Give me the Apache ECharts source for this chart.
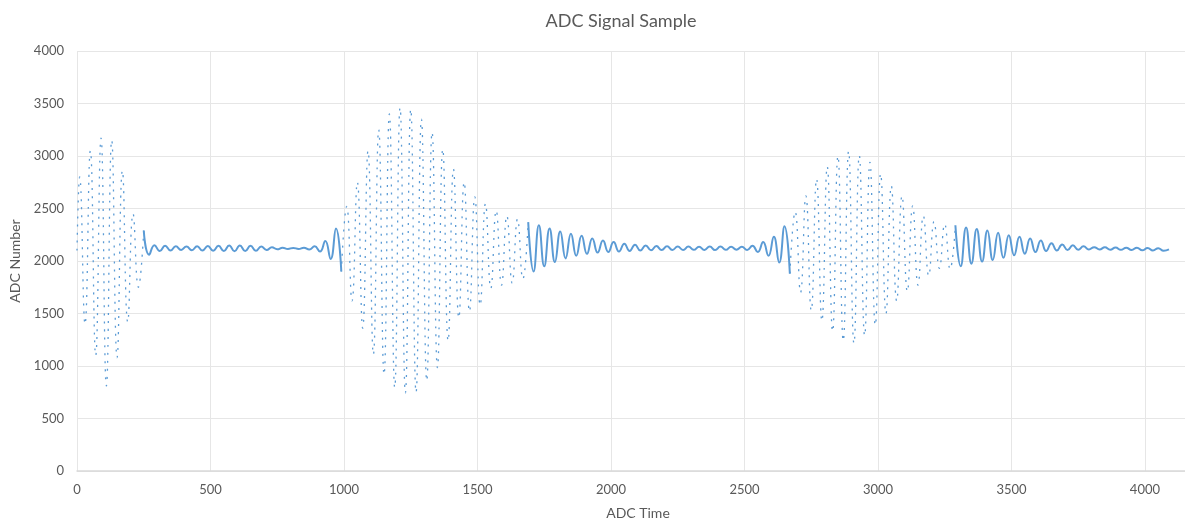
<!DOCTYPE html>
<html>
<head>
<meta charset="utf-8">
<script src="https://cdn.jsdelivr.net/npm/echarts@6/dist/echarts.min.js"></script>
<style>
  html, body { margin: 0; padding: 0; background: #ffffff; }
  #chart { width: 1185px; height: 525px; }
</style>
</head>
<body>
<div id="chart"></div>
<script>
// ---- Data (peaks / troughs of each half cycle) ----
const adcTime = [
  0, 10, 30, 50, 70, 90, 110, 130, 150, 170, 190, 210, 230, 250, 270, 290,
  310, 330, 350, 370, 390, 410, 430, 450, 470, 490, 510, 530, 550, 570, 590,
  610, 630, 650, 670, 690, 710, 730, 750, 770, 790, 810, 830, 850, 870, 890,
  910, 930, 950, 970, 990, 1010, 1030, 1050, 1070, 1090, 1110, 1130, 1150,
  1170, 1190, 1210, 1230, 1250, 1270, 1290, 1310, 1330, 1350, 1370, 1390,
  1410, 1430, 1450, 1470, 1490, 1510, 1530, 1550, 1570, 1590, 1610, 1630,
  1650, 1670, 1690, 1710, 1730, 1750, 1770, 1790, 1810, 1830, 1850, 1870,
  1890, 1910, 1930, 1950, 1970, 1990, 2010, 2030, 2050, 2070, 2090, 2110,
  2130, 2150, 2170, 2190, 2210, 2230, 2250, 2270, 2290, 2310, 2330, 2350,
  2370, 2390, 2410, 2430, 2450, 2470, 2490, 2510, 2530, 2550, 2570, 2590,
  2610, 2630, 2650, 2670, 2690, 2710, 2730, 2750, 2770, 2790, 2810, 2830,
  2850, 2870, 2890, 2910, 2930, 2950, 2970, 2990, 3010, 3030, 3050, 3070,
  3090, 3110, 3130, 3150, 3170, 3190, 3210, 3230, 3250, 3270, 3290, 3310,
  3330, 3350, 3370, 3390, 3410, 3430, 3450, 3470, 3490, 3510, 3530, 3550,
  3570, 3590, 3610, 3630, 3650, 3670, 3690, 3710, 3730, 3750, 3770, 3790,
  3810, 3830, 3850, 3870, 3890, 3910, 3930, 3950, 3970, 3990, 4010, 4030,
  4050, 4070, 4090
];
const adcValue = [
  2100, 2800, 1400, 3050, 1100, 3170, 810, 3150, 1080, 2860, 1420, 2450, 1750, 2290, 2060, 2150,
  2095, 2145, 2100, 2140, 2105, 2138, 2102, 2140, 2100, 2142, 2098, 2145, 2095, 2148, 2092,
  2148, 2095, 2145, 2098, 2138, 2105, 2130, 2112, 2126, 2114, 2125, 2115, 2127, 2110, 2140,
  2090, 2190, 2020, 2310, 1900, 2520, 1620, 2750, 1360, 3050, 1110, 3250, 920,
  3400, 795, 3460, 745, 3445, 750, 3350, 860, 3225, 985, 3065, 1240,
  2875, 1460, 2750, 1520, 2610, 1580, 2545, 1740, 2480, 1770, 2430, 1790,
  2400, 1830, 2370, 1900, 2340, 1950, 2310, 1990, 2280, 2025, 2260, 2050,
  2240, 2068, 2215, 2080, 2195, 2085, 2180, 2090, 2165, 2095, 2155, 2100,
  2148, 2102, 2142, 2104, 2140, 2105, 2138, 2105, 2137, 2106, 2136, 2105,
  2138, 2104, 2137, 2106, 2135, 2108, 2135, 2105, 2145, 2085, 2180, 2050,
  2230, 1985, 2330, 1880, 2470, 1700, 2620, 1530, 2780, 1430, 2900, 1330,
  3000, 1240, 3045, 1215, 3005, 1290, 2940, 1390, 2830, 1500, 2715, 1620,
  2620, 1710, 2525, 1770, 2430, 1860, 2375, 1930, 2350, 1925, 2340, 1950,
  2320, 1975, 2305, 1995, 2290, 2010, 2270, 2030, 2245, 2055, 2230, 2070,
  2215, 2085, 2195, 2095, 2170, 2100, 2158, 2105, 2150, 2108, 2140, 2110,
  2132, 2110, 2130, 2108, 2128, 2106, 2126, 2105, 2127, 2102, 2124, 2100,
  2122, 2098, 2110
];
const yTicks = [0, 500, 1000, 1500, 2000, 2500, 3000, 3500, 4000];
const xTicks = [0, 500, 1000, 1500, 2000, 2500, 3000, 3500, 4000];

// ---- Presentation ----
// sample ranges where the fast, large oscillation renders as dotted columns
const dottedSpans = [[0, 250], [990, 1690], [2670, 3290]];
const inDotted = t => dottedSpans.some(s => t >= s[0] && t <= s[1]);
const isEdge = t => dottedSpans.some(s => t === s[0] || t === s[1]);

const solidData = adcTime.map((t, i) => [t, (!inDotted(t) || isEdge(t)) ? adcValue[i] : null]);
const dottedData = adcTime.map((t, i) => [t, inDotted(t) ? adcValue[i] : null]);

const FONT = 'Lato, "Open Sans", sans-serif';
const chart = echarts.init(document.getElementById('chart'), null, { renderer: 'canvas' });
chart.setOption({
  animation: false,
  backgroundColor: '#ffffff',
  title: {
    text: 'ADC Signal Sample',
    left: 616, top: 7,
    textAlign: 'center',
    textStyle: { fontFamily: FONT, fontSize: 18, fontWeight: 'normal', color: '#595959' }
  },
  grid: { left: 76, right: 0, top: 51, bottom: 51 },
  xAxis: {
    type: 'value',
    min: xTicks[0], max: 4150, interval: xTicks[1] - xTicks[0],
    name: 'ADC Time', nameLocation: 'middle', nameGap: 35,
    nameTextStyle: { fontFamily: FONT, fontSize: 14, color: '#595959', padding: [0, 0, 0, 14] },
    axisLine: { show: true, lineStyle: { color: '#d9d9d9', width: 1.5 } },
    axisTick: { show: false },
    axisLabel: { fontFamily: FONT, fontSize: 13, color: '#595959', margin: 12, showMaxLabel: false,
                 formatter: v => String(v) },
    splitLine: { show: true, lineStyle: { color: '#e6e6e6', width: 1 } }
  },
  yAxis: {
    type: 'value',
    min: yTicks[0], max: yTicks[yTicks.length - 1], interval: yTicks[1] - yTicks[0],
    name: 'ADC Number', nameLocation: 'middle', nameGap: 55,
    nameTextStyle: { fontFamily: FONT, fontSize: 14, color: '#595959' },
    axisLine: { show: false },
    axisTick: { show: false },
    axisLabel: { fontFamily: FONT, fontSize: 13, color: '#595959', margin: 13,
                 formatter: v => String(v) },
    splitLine: { show: true, lineStyle: { color: '#e6e6e6', width: 1 } }
  },
  series: [
    {
      name: 'ADC', type: 'line', data: solidData, smooth: 0.5,
      showSymbol: false, connectNulls: false,
      lineStyle: { color: '#5b9bd5', width: 2 }
    },
    {
      name: 'ADC burst', type: 'line', data: dottedData, smooth: 0.5,
      showSymbol: false, connectNulls: false,
      lineStyle: { color: '#5b9bd5', width: 1.3, type: [2, 6] }
    }
  ]
});
</script>
</body>
</html>
